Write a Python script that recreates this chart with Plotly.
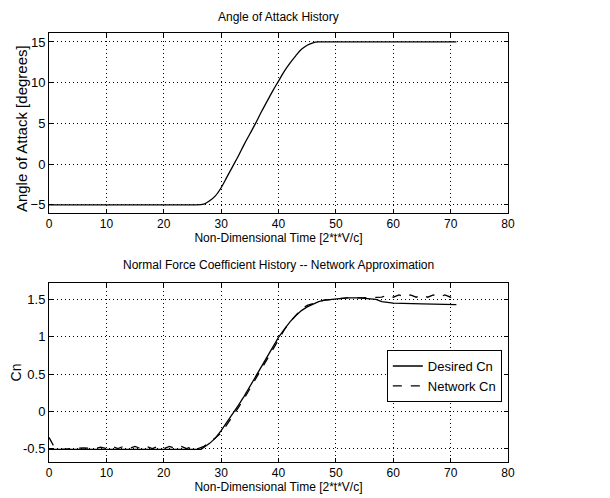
import plotly.graph_objects as go
from plotly.subplots import make_subplots

# ---- data ----
t_alpha = [0, 5, 10, 15, 20, 25, 27, 28, 29, 30, 31, 32, 33, 34, 35, 36, 37, 38, 39, 40,
           41, 42, 43, 44, 45, 46, 47, 50, 55, 60, 65, 70, 71]
alpha = [-5, -5, -5, -5, -5, -5, -4.9, -4.5, -3.9, -2.9, -1.6, -0.3, 1.0, 2.4, 3.7, 5.0, 6.4, 7.7, 9.0, 10.2,
         11.4, 12.4, 13.3, 14.1, 14.6, 14.9, 15, 15, 15, 15, 15, 15, 15]

t_cn = [0, 5, 10, 15, 20, 25, 26.5, 28, 29, 30, 31, 32, 33, 34, 35, 36, 37, 38, 39, 40,
        41, 42, 43, 44, 45, 46, 47, 48, 50, 52, 54, 56, 57, 58, 60, 65, 71]
cn_desired = [-0.51, -0.51, -0.51, -0.51, -0.51, -0.51, -0.51, -0.43, -0.36, -0.26, -0.15, -0.04, 0.08, 0.2,
              0.33, 0.46, 0.59, 0.73, 0.86, 0.99, 1.1, 1.2, 1.28, 1.35, 1.4, 1.44, 1.47, 1.49, 1.51, 1.52,
              1.52, 1.51, 1.50, 1.47, 1.45, 1.44, 1.43]

t_net = [0, 0.7, 1.5, 2.5, 4, 6, 8, 9, 10, 11, 12, 13, 14, 15, 16, 17, 18, 19, 20, 21, 22, 23, 24, 25, 26,
         27, 28, 29, 30, 31, 32, 33, 34, 35, 36, 37, 38, 39, 40, 41, 42, 43, 44, 45, 46, 47, 48, 50, 52,
         54, 56, 57, 58, 59, 60, 61, 62, 63, 64, 65, 66, 67, 68, 69, 70, 70.8]
cn_network = [-0.35, -0.45, -0.5, -0.51, -0.5, -0.49, -0.5, -0.48, -0.5, -0.47, -0.5, -0.47, -0.5, -0.47,
              -0.5, -0.47, -0.5, -0.47, -0.5, -0.47, -0.5, -0.47, -0.5, -0.47, -0.5,
              -0.47, -0.42, -0.36, -0.29, -0.18, -0.07, 0.05, 0.17, 0.3, 0.43, 0.57, 0.71, 0.84, 0.97,
              1.09, 1.2, 1.29, 1.37, 1.42, 1.45, 1.47, 1.49, 1.51, 1.52, 1.52, 1.52, 1.52, 1.53, 1.56,
              1.53, 1.56, 1.53, 1.56, 1.53, 1.56, 1.53, 1.56, 1.53, 1.56, 1.53, 1.55]

x_ticks = [0, 10, 20, 30, 40, 50, 60, 70, 80]
alpha_ticks = [-5, 0, 5, 10, 15]
cn_ticks = [-0.5, 0, 0.5, 1, 1.5]
cn_tick_text = ["-0.5", "0", "0.5", "1", "1.5"]

FONT = "Liberation Sans, Arial, Helvetica, sans-serif"

fig = make_subplots(rows=2, cols=1, vertical_spacing=0.0)

fig.add_trace(go.Scatter(x=t_alpha, y=alpha, mode="lines", line=dict(color="black", width=1.3),
                         line_shape="spline", showlegend=False), row=1, col=1)
fig.add_trace(go.Scatter(x=t_cn, y=cn_desired, mode="lines", name="Desired Cn",
                         line=dict(color="black", width=1.3)), row=2, col=1)
fig.add_trace(go.Scatter(x=t_net, y=cn_network, mode="lines", name="Network Cn",
                         line=dict(color="black", width=1.3, dash="dash")), row=2, col=1)

axis_common = dict(showline=True, mirror="ticks", linecolor="black", linewidth=1,
                   ticks="inside", ticklen=4, tickcolor="black",
                   showgrid=True, gridcolor="black", gridwidth=1, griddash="1px,3px",
                   zeroline=False, automargin=False)

fig.update_xaxes(**axis_common, range=[0, 80], tickvals=x_ticks, ticklabelstandoff=0,
                 tickfont=dict(family=FONT, size=12, color="black"))
fig.update_xaxes(domain=[0, 1])
fig.update_yaxes(**axis_common, tickfont=dict(family=FONT, size=13, color="black"))
fig.update_yaxes(range=[-6, 16.1], tickvals=alpha_ticks, domain=[0.5804, 1], row=1, col=1)
fig.update_yaxes(range=[-0.68, 1.72], tickvals=cn_ticks, ticktext=cn_tick_text,
                 domain=[0, 0.4172], row=2, col=1)

fig.update_xaxes(title=dict(text="Non-Dimensional Time [2*t*V/c]", font=dict(family=FONT, size=12),
                            standoff=1), row=1, col=1)
fig.update_xaxes(title=dict(text="Non-Dimensional Time [2*t*V/c]", font=dict(family=FONT, size=12),
                            standoff=2), row=2, col=1)
fig.update_yaxes(title=dict(text="Cn", font=dict(family=FONT, size=14), standoff=4), row=2, col=1)

# top y-axis title placed as a rotated annotation for exact placement
fig.add_annotation(text="Angle of Attack [degrees]", xref="paper", yref="paper",
                   x=-0.0479, y=0.776, xanchor="center", yanchor="middle", textangle=-90,
                   xshift=-6, showarrow=False, font=dict(family=FONT, size=15, color="black"))

fig.add_annotation(text="Angle of Attack History", xref="paper", yref="paper", x=0.5, y=1,
                   yanchor="middle", yshift=16, showarrow=False,
                   font=dict(family=FONT, size=12, color="black"))
fig.add_annotation(text="Normal Force Coefficient History -- Network Approximation", xref="paper",
                   yref="paper", x=0.5, y=0.4172, yanchor="middle", yshift=18, showarrow=False,
                   font=dict(family=FONT, size=12, color="black"))

# page body has an 8px default margin, so margins are offset accordingly
fig.update_layout(
    width=610, height=498,
    margin=dict(l=41, r=110, t=25, b=44, autoexpand=False),
    paper_bgcolor="white", plot_bgcolor="white",
    font=dict(family=FONT, size=12, color="black"),
    legend=dict(x=0.736, y=0.261, xanchor="left", yanchor="top",
                bordercolor="black", borderwidth=1, bgcolor="white",
                font=dict(family=FONT, size=13), tracegroupgap=0, itemwidth=30),
)

fig.write_html("out.html")
